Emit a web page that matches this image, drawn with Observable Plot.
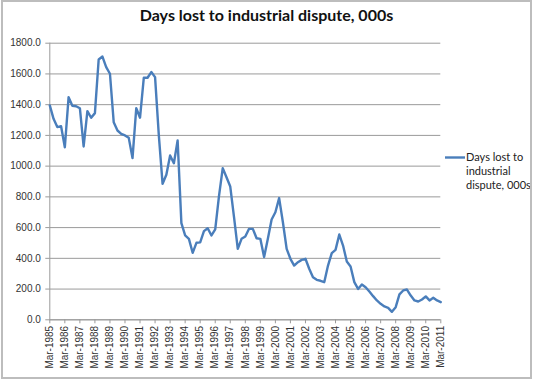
<!DOCTYPE html>
<html><head><meta charset="utf-8">
<script src="https://cdn.jsdelivr.net/npm/d3@7"></script>
<script src="https://cdn.jsdelivr.net/npm/@observablehq/plot@0.6"></script>
<style>
body{margin:0;background:#fff;}
#wrap{position:relative;width:535px;height:381px;overflow:hidden;background:#fff;}
#frame{position:absolute;left:1px;top:0;width:531px;height:379px;border:2px solid #bdbdbd;box-sizing:border-box;pointer-events:none;}
#chart{position:absolute;left:0;top:0;}
#title{position:absolute;left:0;width:533px;top:5px;text-align:center;font-family:Lato,"Liberation Sans",sans-serif;font-weight:bold;font-size:16px;color:#111;}
#legend{position:absolute;left:444px;top:150px;font-family:Lato,"Liberation Sans",sans-serif;font-size:11px;color:#222;line-height:14px;}
#legend svg{position:absolute;left:0;top:0;}
#legend div{position:absolute;left:22px;top:0px;white-space:nowrap;}
</style></head>
<body>
<div id="wrap">
  <div id="chart"></div>
  <div id="title"></div>
  <div id="legend"></div>
  <div id="frame"></div>
</div>
<script>
const seriesName = "Days lost to industrial dispute, 000s";
const startYear = 1985;
const quarterMonths = ["Mar", "Jun", "Sep", "Dec"];
const daysLost = [
  1395, 1308, 1254, 1260, 1123, 1449, 1393, 1390, 1377, 1128,
  1358, 1315, 1345, 1694, 1713, 1644, 1601, 1286, 1232, 1210,
  1200, 1184, 1052, 1377, 1315, 1575, 1575, 1612, 1579, 1200,
  885, 944, 1069, 1019, 1167, 629, 549, 527, 436, 501,
  504, 577, 596, 549, 588, 805, 987, 928, 867, 668,
  462, 527, 542, 592, 592, 531, 527, 408, 528, 653,
  700, 792, 635, 462, 397, 353, 375, 390, 397, 332,
  277, 260, 254, 245, 353, 434, 455, 555, 483, 379,
  347, 245, 201, 230, 212, 184, 154, 126, 104, 87,
  78, 52, 82, 165, 191, 197, 158, 126, 119, 132,
  152, 126, 143, 126, 115
];
const quarterLabels = daysLost.map((d, i) => quarterMonths[i % 4] + "-" + (startYear + Math.floor(i / 4)));
const xTickIndex = quarterLabels.map((l, i) => i).filter(i => i % 4 === 0);
const yTicks = [0, 200, 400, 600, 800, 1000, 1200, 1400, 1600, 1800];

const data = daysLost.map((v, i) => ({i, v}));
const font = '"Liberation Sans", Arial, sans-serif';

const chart = Plot.plot({
  width: 535,
  height: 381,
  marginLeft: 49.3,
  marginRight: 94.7,
  marginTop: 42.7,
  marginBottom: 61.7,
  style: {fontFamily: font, fontSize: "10px", color: "#222", background: "transparent"},
  x: {type: "linear", domain: [0, daysLost.length - 1], axis: null},
  y: {domain: [0, 1800], axis: null},
  marks: [
    Plot.gridY(yTicks, {stroke: "#9a9a9a", strokeOpacity: 1, strokeWidth: 1}),
    Plot.axisY(yTicks, {label: null, tickFormat: d3.format(".1f"), tickSize: 4, tickPadding: 5, stroke: "#9a9a9a", fill: "#333", fontSize: 10}),
    Plot.ruleX([0], {stroke: "#9a9a9a"}),
    Plot.ruleY([0], {stroke: "#9a9a9a"}),
    Plot.axisX(xTickIndex, {label: null, tickFormat: i => quarterLabels[i], tickRotate: -90, tickSize: 4, tickPadding: 2, stroke: "#9a9a9a", fill: "#333", fontSize: 10}),
    Plot.line(data, {x: "i", y: "v", stroke: "#4A7EBB", strokeWidth: 2.4, strokeLinejoin: "round"})
  ]
});
document.getElementById("chart").appendChild(chart);
document.getElementById("title").textContent = seriesName;

const legend = document.getElementById("legend");
legend.innerHTML = `<svg width="24" height="16"><line x1="1" y1="7.5" x2="21" y2="7.5" stroke="#4A7EBB" stroke-width="2.4"/></svg>`;
const lt = document.createElement("div");
lt.innerHTML = "Days lost to<br>industrial<br>dispute, 000s";
legend.appendChild(lt);
</script>
</body></html>
